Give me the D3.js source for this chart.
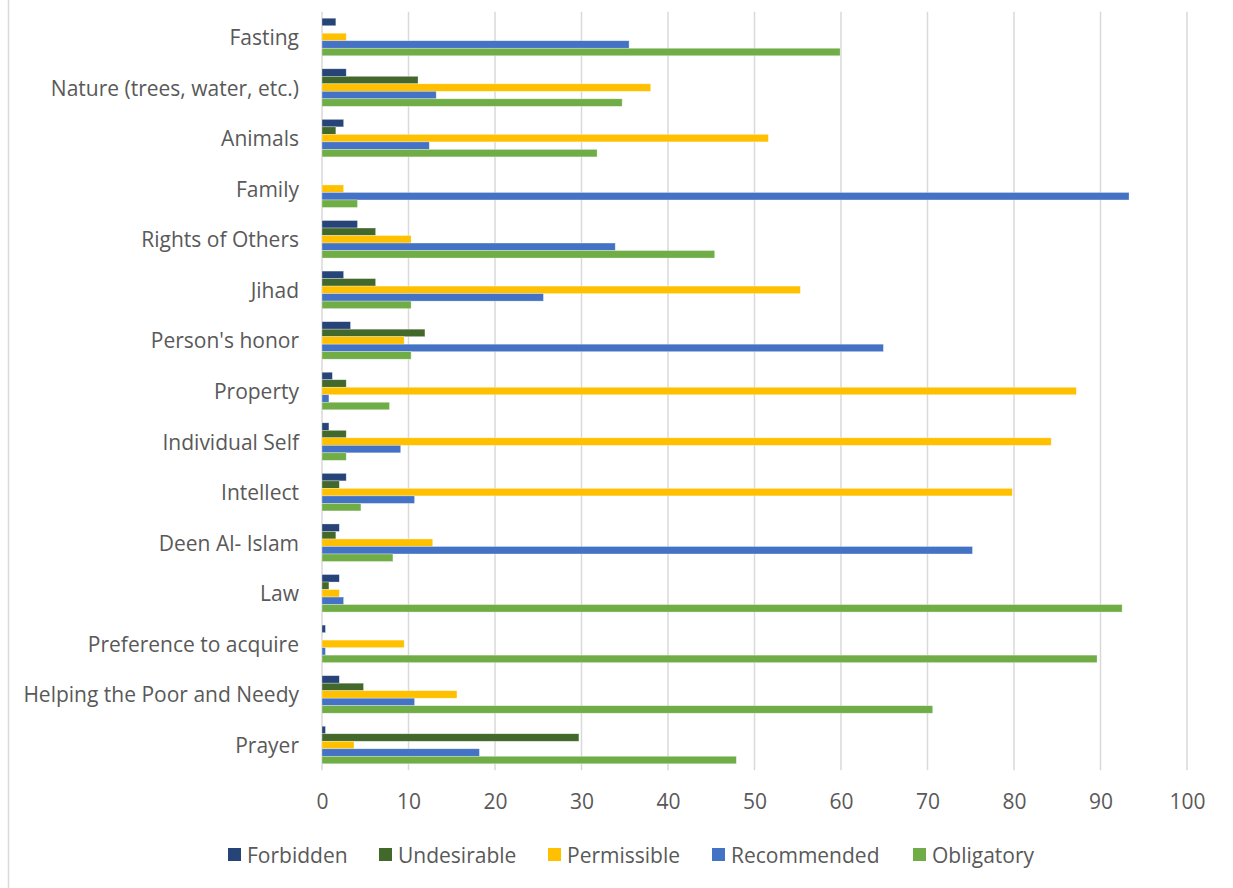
<!DOCTYPE html>
<html>
<head>
<meta charset="utf-8">
<script src="https://cdn.jsdelivr.net/npm/d3@7"></script>
<style>
  html, body { margin: 0; padding: 0; background: #fff; }
  svg { display: block; }
  text { font-family: "Open Sans", sans-serif; fill: #595959; }
</style>
</head>
<body>
<svg id="chart" width="1233" height="888"></svg>
<script>
const categories = ["Fasting", "Nature (trees, water, etc.)", "Animals", "Family", "Rights of Others",
  "Jihad", "Person's honor", "Property", "Individual Self", "Intellect", "Deen Al- Islam", "Law",
  "Preference to acquire", "Helping the Poor and Needy", "Prayer"];
const seriesNames = ["Forbidden", "Undesirable", "Permissible", "Recommended", "Obligatory"];
const seriesColors = ["#264478", "#43682B", "#FFC000", "#4472C4", "#70AD47"];
const forbidden   = [1.6, 2.8, 2.5, 0,    4.1, 2.5, 3.3, 1.2, 0.8, 2.8, 2.0, 2.0, 0.4, 2.0, 0.4];
const undesirable = [0,   11.1, 1.6, 0,   6.2, 6.2, 11.9, 2.8, 2.8, 2.0, 1.6, 0.8, 0, 4.8, 29.7];
const permissible = [2.8, 38.0, 51.6, 2.5, 10.3, 55.3, 9.5, 87.2, 84.3, 79.8, 12.8, 2.0, 9.5, 15.6, 3.7];
const recommended = [35.5, 13.2, 12.4, 93.3, 33.9, 25.6, 64.9, 0.8, 9.1, 10.7, 75.2, 2.5, 0.4, 10.7, 18.2];
const obligatory  = [59.9, 34.7, 31.8, 4.1, 45.4, 10.3, 10.3, 7.8, 2.8, 4.5, 8.2, 92.5, 89.6, 70.6, 47.9];
const xTicks = [0, 10, 20, 30, 40, 50, 60, 70, 80, 90, 100];

const seriesValues = [forbidden, undesirable, permissible, recommended, obligatory];

const svg = d3.select("#chart");
const plotLeft = 322, plotRight = 1187, plotTop = 11.7, plotBottom = 770.3;

const x = d3.scaleLinear().domain([0, 100]).range([plotLeft, plotRight]);
const y = d3.scaleBand().domain(categories).range([plotTop, plotBottom]).paddingInner(0.258).paddingOuter(0.129);
const ySub = d3.scaleBand().domain(seriesNames).range([0, y.bandwidth()]);

// chart border (left edge)
svg.append("line").attr("x1", 8.5).attr("x2", 8.5).attr("y1", 0).attr("y2", 888)
  .attr("stroke", "#d9d9d9").attr("stroke-width", 1.5);

// gridlines
svg.append("g").selectAll("line").data(xTicks).join("line")
  .attr("x1", d => x(d)).attr("x2", d => x(d))
  .attr("y1", plotTop).attr("y2", plotBottom)
  .attr("stroke", "#d9d9d9").attr("stroke-width", 1.5);

// bars
const groups = svg.append("g").selectAll("g").data(categories).join("g")
  .attr("transform", d => `translate(0,${y(d)})`);
groups.each(function(cat, ci) {
  d3.select(this).selectAll("rect").data(seriesNames.map((s, si) => ({s, si, v: seriesValues[si][ci]})))
    .join("rect")
    .attr("x", x(0))
    .attr("y", d => ySub(d.s))
    .attr("width", d => Math.max(0, x(d.v) - x(0)))
    .attr("height", ySub.bandwidth())
    .attr("fill", d => seriesColors[d.si])
    .attr("stroke", "#ffffff").attr("stroke-opacity", 0.5).attr("stroke-width", 0.6);
});

// category axis labels
svg.append("g").selectAll("text").data(categories).join("text")
  .attr("x", 299).attr("y", d => y(d) + y.bandwidth() / 2)
  .attr("text-anchor", "end").attr("dominant-baseline", "central")
  .style("font-size", "21px").text(d => d);

// x axis tick labels
const xAxis = d3.axisBottom(x).tickValues(xTicks).tickSize(0).tickPadding(0);
const ax = svg.append("g").attr("transform", `translate(0,${plotBottom})`).call(xAxis);
ax.select(".domain").remove();
ax.selectAll("text").attr("y", 32).attr("dy", "0.32em").attr("fill", "#595959")
  .style("font-size", "21px").style("font-family", "'Open Sans', sans-serif");

// legend
const legendX = [228, 379, 548, 712, 913];
const leg = svg.append("g").selectAll("g").data(seriesNames).join("g")
  .attr("transform", (d, i) => `translate(${legendX[i]},855)`);
leg.append("rect").attr("x", 0).attr("y", -7).attr("width", 13).attr("height", 13)
  .attr("fill", (d, i) => seriesColors[i]);
leg.append("text").attr("x", 19).attr("y", 0).attr("dominant-baseline", "central")
  .style("font-size", "21px").text(d => d);
</script>
</body>
</html>
